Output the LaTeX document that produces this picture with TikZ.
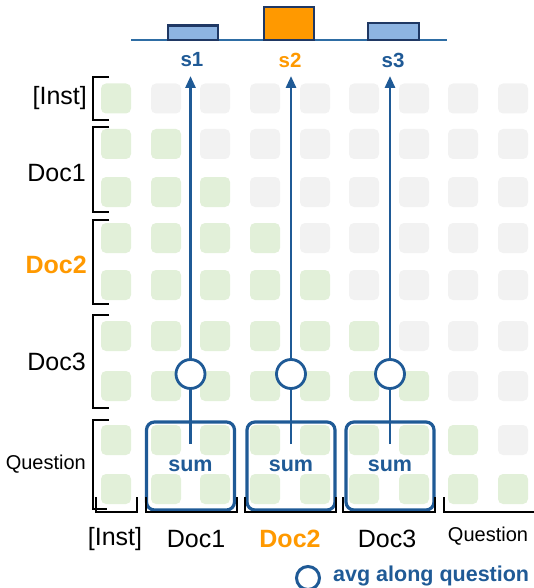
\documentclass[tikz,border=0pt]{standalone}
\usepackage{fontspec}
\setmainfont{Liberation Sans}
\usetikzlibrary{arrows.meta}
\definecolor{cgreen}{HTML}{E2F0D9}
\definecolor{cgray}{HTML}{F2F2F2}
\definecolor{cblue}{HTML}{1F5A96}
\definecolor{navy}{HTML}{1F3864}
\definecolor{lblue}{HTML}{8DB4E2}
\definecolor{corange}{HTML}{FF9900}
\definecolor{baseblue}{HTML}{2E6DA4}
\begin{document}
\begin{tikzpicture}[x=1pt,y=-1pt,
  cell/.style={minimum size=30pt, inner sep=0pt, rounded corners=5pt, draw=none},
  sumbox/.style={draw=cblue, line width=3.2pt, rounded corners=8pt, minimum width=88pt, minimum height=88pt, inner sep=0pt, text=cblue, font=\bfseries\fontsize{21.5}{25}\selectfont},
  avgc/.style={circle, draw=cblue, fill=white, line width=2.8pt, minimum size=29pt, inner sep=0pt},
  flow/.style={draw=cblue, line width=2.8pt},
  bar/.style={draw=navy, line width=2.6pt},
  brk/.style={draw=black, line width=1.9pt},
  lab/.style={font=\fontsize{25}{30}\selectfont, inner sep=0pt},
  qlab/.style={font=\fontsize{20}{24}\selectfont, inner sep=0pt},
  slab/.style={font=\bfseries\fontsize{20.5}{24}\selectfont, inner sep=0pt}
]
\useasboundingbox (0,0) rectangle (534,588);
% grid cells
\foreach \y [count=\r] in {98.5,144,192,238,285,336,386,440,489} {
  \foreach \x [count=\c] in {116,166,215,265,315,364,414,463,513} {
    \ifnum\c>\r \def\fc{cgray}\else\def\fc{cgreen}\fi
    \node[cell, fill=\fc] (c-\r-\c) at (\x,\y) {};
  }
}
% top plot
\coordinate (axl) at (131,40.5);
\coordinate (axr) at (447,40.5);
\draw[baseblue, line width=2pt] (axl) -- (axr);
\draw[bar, fill=lblue] (168,25.5) rectangle (218,40);
\draw[bar, fill=corange] (264,7) rectangle (314,40);
\draw[bar, fill=lblue] (368,23) rectangle (419,40);
\node[slab, text=cblue] (s1) at (192,60) {s1};
\node[slab, text=corange] (s2) at (290,60) {s2};
\node[slab, text=cblue] (s3) at (393,60) {s3};
% sum boxes, circles, arrows
\foreach \i/\x in {1/190.5, 2/291, 3/390} {
  \node[sumbox] (box\i) at (\x,466) {sum};
  \node[avgc] (circ\i) at (\x,374) {};
  \coordinate (top\i) at (\x,444);
  \coordinate (tip\i) at (\x,76);
  \draw[flow] (top\i) -- (circ\i);
  \draw[flow, -{Triangle[length=12pt,width=10pt]}] (circ\i) -- (tip\i);
}
% left brackets
\draw[brk] (109,77) -- (93,77) -- (93,120) -- (109,120);
\draw[brk] (109,127) -- (93,127) -- (93,212) -- (109,212);
\draw[brk] (109,220) -- (93,220) -- (93,304) -- (109,304);
\draw[brk] (109,315) -- (93,315) -- (93,408) -- (109,408);
\draw[brk] (109,420) -- (93,420) -- (93,509) -- (107,509);
% bottom brackets
\draw[brk] (96,497) -- (96,512) -- (137,512) -- (137,497);
\draw[brk] (146,497) -- (146,512) -- (237,512) -- (237,497);
\draw[brk] (245,497) -- (245,512) -- (336,512) -- (336,497);
\draw[brk] (343,497) -- (343,512) -- (435,512) -- (435,497);
\draw[brk] (444,497) -- (444,512) -- (534,512);
% left labels
\node[lab, anchor=east] (lInst) at (87,98) {[Inst]};
\node[lab, anchor=east] (lDoc1) at (86,173) {Doc1};
\node[lab, anchor=east, text=corange, font=\bfseries\fontsize{25}{30}\selectfont] (lDoc2) at (87,265) {Doc2};
\node[lab, anchor=east] (lDoc3) at (86,362) {Doc3};
\node[qlab, anchor=east] (lQ) at (86,464) {Question};
% bottom labels
\node[lab] (bInst) at (115,539) {[Inst]};
\node[lab] (bDoc1) at (196,539) {Doc1};
\node[lab, text=corange, font=\bfseries\fontsize{25}{30}\selectfont] (bDoc2) at (290,539) {Doc2};
\node[lab] (bDoc3) at (387,539) {Doc3};
\node[qlab] (bQ) at (488,536) {Question};
% legend
\node[circle, draw=cblue, line width=3pt, minimum size=23pt, inner sep=0pt] (leg) at (308,578) {};
\node[anchor=west, text=cblue, font=\bfseries\fontsize{21.5}{25}\selectfont, inner sep=0pt] (legt) at (333,576) {avg along question};
\end{tikzpicture}
\end{document}
